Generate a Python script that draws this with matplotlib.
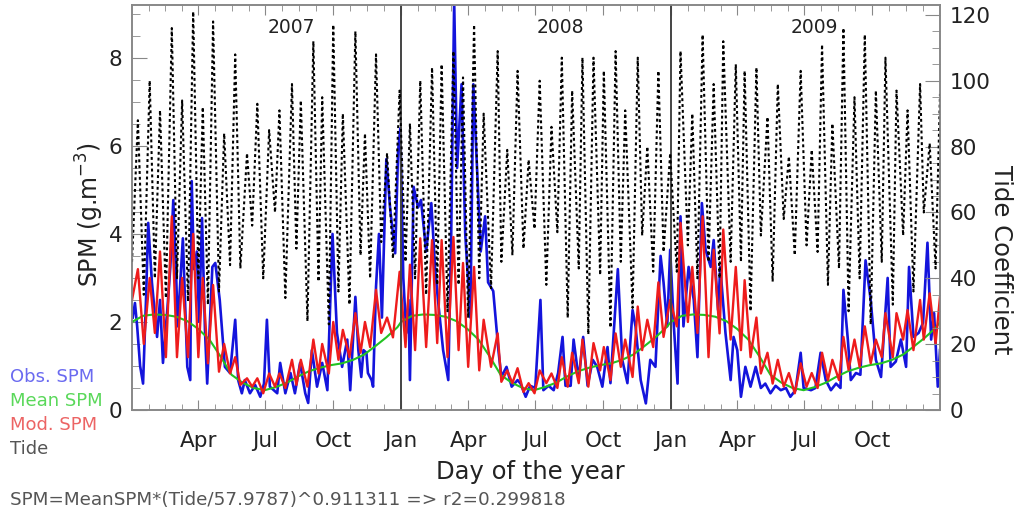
import numpy as np
import matplotlib
matplotlib.use("Agg")
import matplotlib.pyplot as plt
from matplotlib.ticker import FixedLocator, MultipleLocator

# ---------------- data (days since 2007-01-01) ----------------
tide_peak_day = [8, 24, 38, 54, 68, 83, 96, 110, 125, 140, 156, 170, 186, 200, 217, 229, 246, 258, 273, 286, 303, 316, 331, 346, 363,
                 377, 391, 407, 420, 436, 449, 464, 477, 496, 509, 523, 538, 553, 569, 583, 597, 611, 626, 640, 656, 669, 686, 699, 714, 730,
                 744, 760, 774, 789, 802, 819, 831, 847, 862, 876, 891, 907, 922, 936, 950, 965, 980, 994, 1009, 1022, 1037, 1052, 1069, 1082, 1096]
tide_peak_val = [88, 100, 91, 116, 94, 121, 92, 118, 84, 108, 78, 93, 85, 91, 99, 94, 112, 95, 117, 90, 115, 84, 108, 78, 97,
                 87, 100, 104, 105, 109, 101, 117, 90, 109, 79, 103, 76, 100, 86, 107, 97, 107, 107, 103, 109, 91, 107, 80, 103, 78,
                 109, 90, 114, 99, 112, 105, 103, 104, 89, 99, 77, 103, 79, 111, 87, 116, 95, 114, 97, 107, 97, 91, 99, 81, 96]
tide_trough_day = [0, 16, 31, 46, 61, 76, 90, 103, 118, 133, 147, 163, 178, 194, 208, 223, 238, 253, 267, 280, 295, 310, 323, 338, 354, 371,
                   384, 399, 414, 428, 443, 456, 471, 487, 501, 516, 531, 546, 562, 577, 591, 606, 619, 635, 649, 663, 679, 692, 707, 721, 739,
                   754, 767, 782, 797, 812, 826, 839, 853, 869, 884, 899, 915, 930, 944, 959, 972, 987, 1002, 1017, 1032, 1046, 1060, 1074, 1090]
tide_trough_val = [45, 35, 40, 34, 40, 33, 40, 32, 36, 44, 43, 56, 40, 60, 34, 49, 27, 39, 26, 36, 32, 47, 40, 51, 46, 45,
                   40, 35, 38, 30, 38, 28, 40, 37, 45, 47, 49, 55, 38, 54, 28, 43, 23, 41, 25, 45, 31, 53, 42, 48, 42,
                   50, 40, 45, 40, 45, 45, 30, 53, 39, 58, 47, 50, 48, 38, 43, 30, 40, 26, 45, 32, 53, 36, 60, 43]

# modelled SPM at spring (peak) and neap (trough) tides
mod_peak_val = [3.2, 3.0, 3.6, 4.4, 3.0, 4.0, 3.0, 2.84, 1.5, 1.2, 0.72, 0.72, 0.83, 0.83, 1.14, 1.14, 1.6, 1.5, 2.0, 1.82, 2.2, 2.0, 2.73, 2.1, 3.14,
                3.3, 3.9, 3.86, 3.86, 3.93, 3.34, 3.25, 2.05, 1.74, 0.9, 0.95, 0.61, 0.9, 0.83, 1.2, 1.3, 1.6, 1.52, 1.43, 1.74, 1.6, 2.35, 2.05, 2.9, 2.5,
                4.25, 3.25, 4.4, 3.64, 4.1, 3.25, 2.95, 2.1, 1.3, 1.14, 0.84, 1.06, 0.84, 1.3, 1.14, 1.66, 1.6, 1.9, 1.6, 2.2, 2.2, 2.27, 2.5, 2.65, 2.57]
mod_trough_val = [2.5, 1.5, 1.75, 1.2, 1.2, 1.2, 1.2, 1.06, 0.87, 0.83, 0.57, 0.53, 0.38, 0.53, 0.5, 0.57, 0.53, 0.83, 0.83, 1.14, 1.2, 1.3, 1.43, 1.75, 1.65, 1.43,
                  1.36, 1.43, 1.52, 1.2, 1.36, 0.98, 0.9, 0.98, 0.64, 0.61, 0.41, 0.38, 0.61, 0.5, 0.53, 0.61, 0.53, 0.9, 0.68, 0.98, 0.75, 1.36, 1.43, 1.66, 1.9,
                  2.0, 1.75, 1.2, 1.74, 1.6, 1.36, 1.2, 0.83, 0.6, 0.53, 0.38, 0.53, 0.5, 0.68, 0.68, 0.91, 0.98, 1.06, 1.2, 1.2, 1.6, 1.36, 1.6, 1.5]

# climatological mean SPM by day of year
mean_doy = [0, 15, 30, 45, 60, 75, 90, 105, 120, 135, 150, 165, 180, 195, 210, 225, 240, 255, 270, 285, 300, 315, 330, 345, 360]
mean_val = [2.0, 2.14, 2.17, 2.16, 2.12, 2.02, 1.84, 1.6, 1.22, 0.8, 0.62, 0.5, 0.45, 0.52, 0.62, 0.76, 0.88, 0.96, 1.02, 1.06, 1.14, 1.26, 1.45, 1.65, 1.88]

# observed SPM
obs_day = [1, 4, 7, 11, 15, 19, 22, 27, 34, 38, 42, 48, 52, 56, 60, 62, 69, 75, 79, 81, 84, 88, 91, 95, 99, 102,
           109, 113, 119, 126, 133, 140, 144, 149, 153, 160, 167, 174, 179, 183, 187, 197, 201, 208, 215, 221, 228, 235, 239, 244,
           251, 258, 265, 272, 278, 285, 292, 296, 303, 307, 311, 314, 318, 320, 325, 327, 331, 335, 339, 345, 350, 357, 361, 364,
           368, 372, 375, 377, 382, 388, 392, 399, 406, 411, 415, 422, 429, 433, 437, 441, 447, 452, 459, 463, 467, 473, 479, 483,
           490, 497, 501, 508, 515, 523, 527, 534, 540, 547, 554, 558, 565, 572, 578, 584, 588, 595, 599, 606, 612, 618, 625, 631,
           638, 645, 649, 659, 665, 672, 679, 683, 690, 697, 703, 710, 717, 721, 726, 730, 735, 740, 744, 748, 755, 762, 767, 773,
           778, 785, 789, 795, 798, 805, 812, 816, 821, 826, 832, 839, 846, 853, 859, 866, 873, 880, 887, 893, 900, 907, 911, 921,
           927, 934, 941, 948, 955, 961, 965, 971, 975, 982, 988, 995, 1002, 1009, 1016, 1025, 1029, 1036, 1043, 1050, 1054, 1060,
           1067, 1073, 1079, 1084, 1088, 1093, 1096]
obs_val = [2.1, 2.43, 1.9, 1.0, 0.6, 2.5, 4.25, 2.9, 1.66, 2.5, 1.07, 2.3, 3.25, 4.77, 3.0, 1.9, 3.9, 0.98, 0.68, 5.2, 3.2, 3.6, 2.0, 4.36, 1.8, 0.6,
           3.25, 3.34, 2.5, 0.98, 0.84, 2.05, 0.68, 0.38, 0.68, 0.38, 0.57, 0.3, 0.6, 2.05, 0.53, 0.38, 1.07, 0.38, 0.84, 0.38, 1.07, 0.38, 0.16, 1.36,
           0.53, 1.07, 0.45, 4.0, 1.75, 0.98, 1.6, 0.45, 2.57, 1.36, 0.75, 1.36, 1.3, 0.84, 0.68, 0.53, 2.8, 4.0, 2.1, 5.7, 4.6, 3.56, 5.9, 6.4,
           3.0, 1.75, 2.5, 0.68, 5.07, 4.6, 4.77, 3.6, 4.7, 3.25, 2.5, 1.36, 0.68, 4.0, 9.3, 5.5, 7.4, 4.0, 2.1, 7.4, 5.9, 3.6, 4.4, 2.9,
           2.7, 1.36, 0.75, 0.98, 0.53, 0.68, 0.6, 0.3, 0.55, 0.5, 2.5, 0.45, 0.55, 0.45, 0.84, 1.66, 0.55, 0.55, 1.6, 0.7, 1.66, 0.55, 1.14, 0.98,
           0.53, 1.43, 0.61, 3.2, 1.14, 0.61, 2.27, 1.9, 0.68, 0.15, 1.14, 0.98, 3.5, 2.9, 1.9, 3.64, 1.9, 0.6, 4.4, 1.9, 3.25, 2.5, 1.2, 4.7,
           3.64, 3.25, 3.86, 2.27, 3.25, 1.75, 0.68, 1.66, 1.36, 0.3, 0.98, 0.53, 0.98, 0.5, 0.6, 0.38, 0.55, 0.45, 0.5, 0.3, 0.45, 1.3, 0.5, 0.45,
           0.5, 1.3, 0.68, 0.45, 0.6, 0.5, 2.73, 1.6, 0.68, 0.84, 0.8, 3.4, 2.5, 1.14, 0.75, 3.0, 0.98, 1.1, 1.6, 0.98, 3.25, 1.66,
           1.75, 1.98, 3.8, 1.6, 2.2, 0.53, 1.36]

month_labels = ["Apr", "Jul", "Oct", "Jan", "Apr", "Jul", "Oct", "Jan", "Apr", "Jul", "Oct"]
month_days = [90, 181, 273, 365, 456, 547, 639, 731, 821, 912, 1004]
year_labels = ["2007", "2008", "2009"]
year_label_day = [216, 581, 925]
year_start = [0, 365, 731, 1096]

# ---------------- assemble series ----------------
tide_days = np.array(tide_peak_day + tide_trough_day)
order = np.argsort(tide_days, kind="stable")
tide_d = tide_days[order]
tide_v = np.array(tide_peak_val + tide_trough_val)[order]
mod_v = np.array(mod_peak_val + mod_trough_val)[order]

mean_d = np.concatenate([np.array(mean_doy) + year_start[k] for k in range(3)] + [[year_start[3]]])
mean_v = np.concatenate([mean_val] * 3 + [[mean_val[0]]])

# ---------------- figure ----------------
W, H = 1021, 517
fig = plt.figure(figsize=(W / 100, H / 100), dpi=100)
ax = fig.add_axes([132 / W, (H - 410) / H, 808 / W, 405 / H])

ax.plot(obs_day, obs_val, color="#1414dc", lw=1.9, zorder=2)
ax.plot(mean_d, mean_v, color="#22c322", lw=1.5, zorder=3)
ax.plot(tide_d, mod_v, color="#ee1c1c", lw=1.7, zorder=4)
for d in year_start[1:3]:
    ax.axvline(d, color="#444444", lw=1.4, zorder=5)

ax.set_xlim(0, 1096)
ax.set_ylim(0, 9.2)

ax2 = ax.twinx()
ax2.plot(tide_d, tide_v, color="black", lw=1.5, ls=(0, (1.4, 1.4)))
ax2.set_ylim(0, 123)

tc = "#222222"
gc = "#888888"
for a in (ax, ax2):
    for s in a.spines.values():
        s.set_color(gc)
        s.set_linewidth(1.2)

ax.xaxis.set_major_locator(FixedLocator(month_days))
ax.set_xticklabels(month_labels)
bounds = [0] + month_days + [1096]
minor = []
for a0, a1 in zip(bounds[:-1], bounds[1:]):
    for i in range(1, 4):
        minor.append(a0 + (a1 - a0) * i / 4)
ax.xaxis.set_minor_locator(FixedLocator(minor))
ax.yaxis.set_major_locator(MultipleLocator(2))
ax.yaxis.set_minor_locator(MultipleLocator(0.5))
ax2.yaxis.set_major_locator(MultipleLocator(20))
ax2.yaxis.set_minor_locator(MultipleLocator(5))

fs = 15.5
ax.tick_params(axis="x", which="both", direction="in", top=True, colors=gc, labelcolor=tc, labelsize=fs, pad=15)
ax.tick_params(axis="x", which="major", length=7)
ax.tick_params(axis="x", which="minor", length=4)
ax.tick_params(axis="y", which="both", direction="in", colors=gc, labelcolor=tc, labelsize=fs, pad=7)
ax.tick_params(axis="y", which="major", length=11)
ax.tick_params(axis="y", which="minor", length=6)
ax2.tick_params(axis="y", which="both", direction="in", colors=gc, labelcolor=tc, labelsize=fs, pad=7)
ax2.tick_params(axis="y", which="major", length=11)
ax2.tick_params(axis="y", which="minor", length=6)

for lab, dd in zip(year_labels, year_label_day):
    ax.text(dd, 8.7, lab, ha="center", va="center", fontsize=13.5, color=tc)

fs_lab = 17.5
fig.text(90 / W, 1 - 215 / H, "SPM (g.m$^{-3}$)", rotation=90, ha="center", va="center", fontsize=fs_lab - 0.5, color=tc)
fig.text(1001 / W, 1 - 260 / H, "Tide Coefficient", rotation=270, ha="center", va="center", fontsize=fs_lab, color=tc)
fig.text(530 / W, 1 - 472 / H, "Day of the year", ha="center", va="center", fontsize=fs_lab, color=tc)

leg = [("Obs. SPM", "#6a6af0", 377), ("Mean SPM", "#5ad85a", 401), ("Mod. SPM", "#ec6464", 425), ("Tide", "#555555", 449)]
for txt, col, yy in leg:
    fig.text(10 / W, 1 - yy / H, txt, ha="left", va="center", fontsize=13, color=col)
fig.text(10 / W, 1 - 500 / H, "SPM=MeanSPM*(Tide/57.9787)^0.911311 => r2=0.299818",
         ha="left", va="center", fontsize=13.2, color="#555555")

fig.savefig("out.png", dpi=100)
